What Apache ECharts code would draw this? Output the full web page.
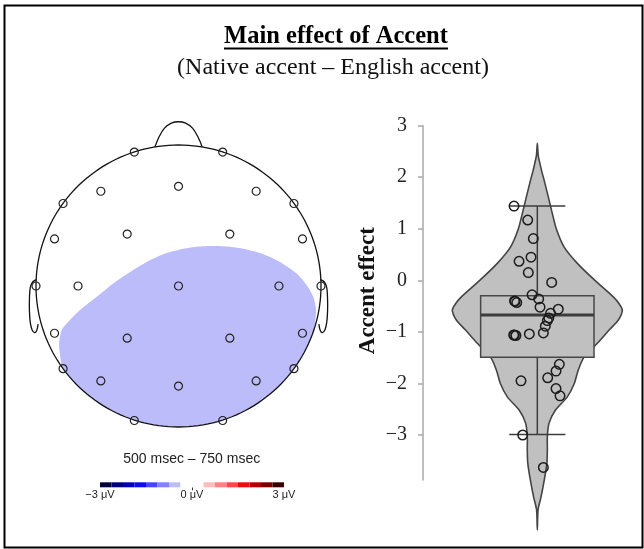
<!DOCTYPE html>
<html>
<head>
<meta charset="utf-8">
<script src="https://cdn.jsdelivr.net/npm/echarts@6/dist/echarts.min.js"></script>
<style>
html, body { margin: 0; padding: 0; background: #fff; }
#main { width: 644px; height: 549px; }
</style>
</head>
<body>
<div id="main"></div>
<script>
// ---- Scalp map: electrode sites in normalised head coordinates (nose up) ----
const electrodeX = [-0.31, 0.31, -0.545, 0, 0.545, -0.81, 0.81, -0.87, -0.36, 0.36, 0.87,
  -1, -0.705, 0, 0.705, 1, -0.87, -0.36, 0.36, 0.87, -0.81, 0.81, -0.545, 0, 0.545, -0.31, 0.31];
const electrodeY = [0.95, 0.95, 0.672, 0.707, 0.672, 0.585, 0.585, 0.334, 0.368, 0.368, 0.334,
  0, 0, 0, 0, 0, -0.335, -0.37, -0.37, -0.335, -0.586, -0.586, -0.673, -0.71, -0.673, -0.954, -0.954];

// Upper edge of the negative cluster (left rim to right rim); the lower edge follows the scalp
const clusterX = [-0.815, -0.83, -0.838, -0.82, -0.773, -0.691, -0.574, -0.458, -0.34, -0.223, -0.107,
  0.011, 0.128, 0.244, 0.361, 0.479, 0.595, 0.712, 0.829, 0.9, 0.946, 0.965, 0.954];
const clusterY = [-0.58, -0.5, -0.41, -0.313, -0.254, -0.171, -0.077, 0.018, 0.1, 0.171, 0.226,
  0.259, 0.278, 0.283, 0.278, 0.259, 0.226, 0.171, 0.089, 0.006, -0.077, -0.171, -0.3];
const clusterLevel = -0.5; // µV, mean amplitude of the cluster

// Colour scale (µV)
const scaleBreaks = [-3, -2.625, -2.25, -1.875, -1.5, -1.125, -0.75, -0.375, 0,
  0.375, 0.75, 1.125, 1.5, 1.875, 2.25, 2.625, 3];
const scaleColors = ['#00003a', '#000078', '#0000b8', '#0b0bf0', '#4545ff', '#8282ff', '#bcbcfa', '#ffffff',
  '#ffffff', '#fcbcbc', '#ff8282', '#ff4545', '#f00b0b', '#b80000', '#780000', '#3a0000'];
const scaleTicks = [-3, 0, 3];
const scaleZeroTick = [0];

// ---- Accent effect per participant (Native − English, µV) ----
const densityValue = [2.66, 2.43, 2.27, 2.11, 1.95, 1.62, 1.3, 0.98, 0.65, 0.33, 0.01, -0.32, -0.45, -0.58,
  -0.77, -0.96, -1.22, -1.48, -1.74, -2.0, -2.26, -2.52, -2.77, -3.03, -3.29, -3.55, -3.87, -4.2, -4.45, -4.84];
const densityHalfWidth = [0, 0.01, 0.03, 0.053, 0.079, 0.129, 0.176, 0.227, 0.314, 0.471, 0.671, 0.894, 0.96, 1.0,
  0.953, 0.847, 0.706, 0.553, 0.482, 0.435, 0.353, 0.212, 0.138, 0.118, 0.118, 0.112, 0.082, 0.044, 0.009, 0];
// lower whisker, Q1, median, Q3, upper whisker
const boxSummary = [-2.99, -1.49, -0.67, -0.3, 1.44];
const participantEffect = [1.44, 1.17, 0.81, 0.45, 0.37, 0.15, -0.04, -0.28, -0.36, -0.4, -0.41, -0.43, -0.52,
  -0.56, -0.64, -0.73, -0.78, -0.89, -1.02, -1.04, -1.06, -1.06, -1.07, -1.63, -1.76, -1.89, -1.95, -2.1, -2.24, -3.0, -3.63];
const participantJitter = [-0.274, -0.113, -0.047, -0.074, -0.215, -0.106, 0.169, -0.062, 0.016, -0.268, -0.262,
  -0.242, 0.032, 0.247, 0.155, 0.135, 0.118, 0.094, 0.071, -0.094, -0.278, -0.27, -0.252, 0.259, 0.22, 0.122,
  -0.192, 0.22, 0.267, -0.172, 0.071];
const effectTicks = [-3, -2, -1, 0, 1, 2, 3];

const titleText = 'Main effect of Accent';
const subtitleText = '(Native accent \u2013 English accent)';
const windowText = '500 msec \u2013 750 msec';
const effectAxisName = 'Accent effect';

// ---------------------------------------------------------------------------
const chart = echarts.init(document.getElementById('main'), null, { renderer: 'canvas' });
const minus = v => (v < 0 ? '\u2212' + (-v) : String(v));
const serif = 'Liberation Serif, Times New Roman, serif';
const sans = 'Liberation Sans, Arial, sans-serif';

function colourFor(v) {
  for (let i = 0; i < scaleColors.length; i++) {
    if (v >= scaleBreaks[i] && v < scaleBreaks[i + 1]) return scaleColors[i];
  }
  return scaleColors[scaleColors.length - 1];
}

// Head outline, nose and ears
const noseShape = [[-0.165, 0.988], [-0.14, 1.05], [-0.1, 1.118], [-0.05, 1.155], [0, 1.165],
  [0.05, 1.155], [0.1, 1.118], [0.14, 1.05], [0.165, 0.988]];
const earShape = [[-0.995, 0.045], [-1.022, 0.03], [-1.04, -0.01], [-1.046, -0.09], [-1.046, -0.18],
  [-1.04, -0.26], [-1.028, -0.31], [-1.01, -0.33], [-0.995, -0.315], [-0.985, -0.27]];

function renderHead(params, api) {
  const ring = [];
  for (let k = 0; k < 180; k++) {
    const a = (k / 180) * Math.PI * 2;
    ring.push(api.coord([Math.cos(a), Math.sin(a)]));
  }
  const stroke = { fill: 'none', stroke: '#111', lineWidth: 1.3 };
  return {
    type: 'group',
    children: [
      { type: 'polygon', shape: { points: ring }, style: stroke },
      { type: 'polyline', shape: { points: noseShape.map(p => api.coord(p)), smooth: 0.35 }, style: stroke },
      { type: 'polyline', shape: { points: earShape.map(p => api.coord(p)), smooth: 0.35 }, style: stroke },
      { type: 'polyline', shape: { points: earShape.map(p => api.coord([-p[0], p[1]])), smooth: 0.35 }, style: stroke }
    ]
  };
}

function renderCluster(params, api) {
  if (params.dataIndex !== 0) return null;
  const pts = clusterX.map((x, i) => api.coord([x, clusterY[i]]));
  const n = clusterX.length - 1;
  const aEnd = Math.atan2(clusterY[n], clusterX[n]);
  const aStart = Math.atan2(clusterY[0], clusterX[0]);
  // run round the lower rim of the scalp from the right end back to the left end
  for (let a = aEnd - 0.04; a > aStart + 0.02; a -= 0.04) {
    pts.push(api.coord([Math.cos(a), Math.sin(a)]));
  }
  return {
    type: 'polygon',
    shape: { points: pts, smooth: 0.25 },
    style: { fill: colourFor(clusterLevel), stroke: 'none' }
  };
}

function renderViolin(params, api) {
  if (params.dataIndex !== 0) return null;
  const right = densityValue.map((v, i) => api.coord([densityHalfWidth[i], v]));
  const left = [];
  for (let i = densityValue.length - 2; i >= 1; i--) left.push(api.coord([-densityHalfWidth[i], densityValue[i]]));
  return {
    type: 'polygon',
    shape: { points: right.concat(left), smooth: 0.3 },
    style: { fill: '#c0c0c0', stroke: '#444', lineWidth: 1.6 }
  };
}

const boxHalf = 0.667, capHalf = 0.33;
function renderBox(params, api) {
  const lw = api.value(1), q1 = api.value(2), med = api.value(3), q3 = api.value(4), uw = api.value(5);
  const tl = api.coord([-boxHalf, q3]);
  const br = api.coord([boxHalf, q1]);
  const line = (a, b, w) => ({
    type: 'line',
    shape: { x1: a[0], y1: a[1], x2: b[0], y2: b[1] },
    style: { stroke: '#3c3c3c', lineWidth: w }
  });
  return {
    type: 'group',
    children: [
      { type: 'rect', shape: { x: tl[0], y: tl[1], width: br[0] - tl[0], height: br[1] - tl[1] },
        style: { fill: '#c0c0c0', stroke: '#474747', lineWidth: 1.5 } },
      line(api.coord([0, q3]), api.coord([0, uw]), 1.5),
      line(api.coord([0, q1]), api.coord([0, lw]), 1.5),
      line(api.coord([-capHalf, uw]), api.coord([capHalf, uw]), 1.5),
      line(api.coord([-capHalf, lw]), api.coord([capHalf, lw]), 1.5),
      line(api.coord([-boxHalf, med]), api.coord([boxHalf, med]), 3)
    ]
  };
}

function renderScale(params, api) {
  const a = api.coord([api.value(0), 1]);
  const b = api.coord([api.value(1), 0]);
  return {
    type: 'rect',
    shape: { x: a[0], y: a[1], width: b[0] - a[0], height: b[1] - a[1] },
    style: { fill: scaleColors[params.dataIndex], stroke: 'none' }
  };
}

const option = {
  animation: false,
  backgroundColor: '#fff',
  grid: [
    { left: 36, top: 145, width: 285, height: 282 },
    { left: 423, top: 125.7, width: 200, height: 354.3 },
    { left: 100, top: 482.3, width: 184, height: 5 }
  ],
  xAxis: [
    { gridIndex: 0, type: 'value', min: -1, max: 1, show: false },
    { gridIndex: 1, type: 'value', min: -1.345, max: 1.008, show: false },
    {
      gridIndex: 2, type: 'value', min: -3, max: 3,
      axisLine: { show: false, onZero: false },
      splitLine: { show: false },
      axisTick: { show: true, customValues: scaleZeroTick, length: 3, lineStyle: { color: '#333', width: 1 } },
      axisLabel: {
        customValues: scaleTicks, margin: 2,
        fontFamily: sans, fontSize: 11, color: '#222',
        formatter: v => minus(v) + ' \u03bcV'
      }
    }
  ],
  yAxis: [
    { gridIndex: 0, type: 'value', min: -1, max: 1, show: false },
    {
      gridIndex: 1, type: 'value', min: -3.873, max: 3, position: 'left',
      axisLine: { show: true, onZero: false, lineStyle: { color: '#a8a8a8', width: 1.5 } },
      axisTick: { show: true, customValues: effectTicks, length: 5, lineStyle: { color: '#a8a8a8', width: 1.5 } },
      splitLine: { show: false },
      axisLabel: {
        customValues: effectTicks, margin: 16,
        fontFamily: serif, fontSize: 20, color: '#222',
        formatter: v => minus(v)
      }
    },
    { gridIndex: 2, type: 'value', min: 0, max: 1, show: false }
  ],
  graphic: [
    { type: 'rect', shape: { x: 4.5, y: 5.5, width: 638, height: 542 },
      style: { fill: 'none', stroke: '#000', lineWidth: 2 }, z: 100 },
    { type: 'text', x: 336, y: 36.5,
      style: { text: titleText, font: 'bold 24.5px ' + serif, fill: '#000', align: 'center', verticalAlign: 'middle' } },
    { type: 'line', shape: { x1: 224, y1: 48.5, x2: 448, y2: 48.5 }, style: { stroke: '#000', lineWidth: 2 } },
    { type: 'text', x: 333, y: 68,
      style: { text: subtitleText, font: '24px ' + serif, fill: '#111', align: 'center', verticalAlign: 'middle' } },
    { type: 'text', x: 368, y: 290.7, rotation: Math.PI / 2,
      style: { text: effectAxisName, font: 'bold 23px ' + serif, fill: '#111', align: 'center', verticalAlign: 'middle' } },
    { type: 'text', x: 191.7, y: 459,
      style: { text: windowText, font: '14px ' + sans, fill: '#222', align: 'center', verticalAlign: 'middle' } }
  ],
  series: [
    {
      type: 'custom', name: 'cluster', xAxisIndex: 0, yAxisIndex: 0, clip: false,
      encode: { x: 0, y: 1 },
      data: clusterX.map((x, i) => [x, clusterY[i]]),
      renderItem: renderCluster
    },
    {
      type: 'custom', name: 'head', xAxisIndex: 0, yAxisIndex: 0, clip: false,
      encode: { x: 0, y: 1 },
      data: [[0, 0]],
      renderItem: renderHead
    },
    {
      type: 'scatter', name: 'electrodes', xAxisIndex: 0, yAxisIndex: 0,
      symbol: 'circle', symbolSize: 8,
      itemStyle: { color: 'rgba(0,0,0,0)', borderColor: '#222', borderWidth: 1.2, opacity: 1 },
      data: electrodeX.map((x, i) => [x, electrodeY[i]])
    },
    {
      type: 'custom', name: 'density', xAxisIndex: 1, yAxisIndex: 1, clip: false,
      encode: { x: 0, y: 1 },
      data: densityValue.map((v, i) => [densityHalfWidth[i], v]),
      renderItem: renderViolin
    },
    {
      type: 'custom', name: 'box', xAxisIndex: 1, yAxisIndex: 1, clip: false,
      encode: { x: 0, y: [1, 2, 3, 4, 5] },
      data: [[0].concat(boxSummary)],
      renderItem: renderBox
    },
    {
      type: 'scatter', name: 'participants', xAxisIndex: 1, yAxisIndex: 1,
      symbol: 'circle', symbolSize: 9.5,
      itemStyle: { color: 'rgba(0,0,0,0)', borderColor: '#1c1c1c', borderWidth: 1.5, opacity: 1 },
      data: participantEffect.map((v, i) => [participantJitter[i], v])
    },
    {
      type: 'custom', name: 'scale', xAxisIndex: 2, yAxisIndex: 2, clip: false,
      encode: { x: [0, 1] },
      data: scaleColors.map((c, i) => [scaleBreaks[i], scaleBreaks[i + 1]]),
      renderItem: renderScale
    }
  ]
};
chart.setOption(option);
</script>
</body>
</html>
